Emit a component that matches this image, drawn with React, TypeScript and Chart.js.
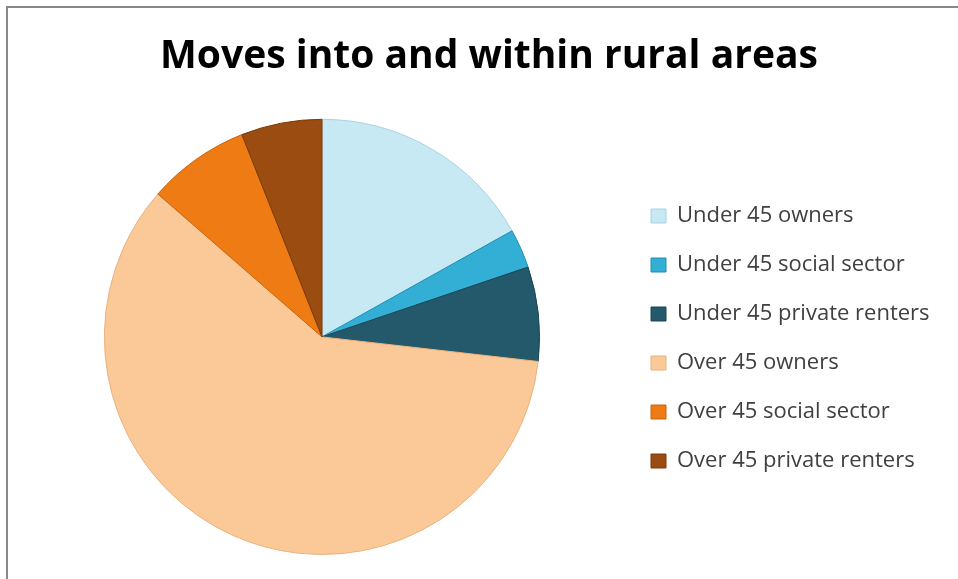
import React, { useEffect, useRef } from "react";
import { Chart, registerables } from "chart.js";

Chart.register(...registerables);

const TITLE = "Moves into and within rural areas";
const CATEGORIES = [
  "Under 45 owners",
  "Under 45 social sector",
  "Under 45 private renters",
  "Over 45 owners",
  "Over 45 social sector",
  "Over 45 private renters",
];
const VALUES = [16.9, 2.9, 7.0, 59.6, 7.6, 6.0];
const COLORS = ["#C6E9F3", "#33AED4", "#23596A", "#FBC998", "#EF7B15", "#9B4C10"];
const EDGE_COLORS = ["#A9D3E0", "#2090B5", "#1A4654", "#E8B27E", "#C9650D", "#7A3A0A"];

const FONT = "'Open Sans', 'Noto Sans', sans-serif";
const LEGEND_MIN_WIDTH = 334;

const legendWidthPlugin = {
  id: "legendWidth",
  afterInit(chart: any) {
    const lg = chart.legend;
    if (!lg) return;
    const orig = lg.fit.bind(lg);
    lg.fit = function () {
      orig();
      this.width = Math.max(this.width, LEGEND_MIN_WIDTH);
    };
  },
};

export default function App() {
  const ref = useRef<HTMLCanvasElement | null>(null);
  useEffect(() => {
    if (!ref.current) return;
    const chart = new Chart(ref.current, {
      type: "pie",
      data: {
        labels: CATEGORIES,
        datasets: [
          {
            data: VALUES,
            backgroundColor: COLORS,
            borderColor: EDGE_COLORS,
            borderWidth: 1,
          },
        ],
      },
      plugins: [legendWidthPlugin],
      options: {
        animation: false,
        responsive: false,
        maintainAspectRatio: false,
        layout: { padding: { left: 20, right: 0, top: 0, bottom: 24 } },
        plugins: {
          title: {
            display: true,
            text: TITLE,
            color: "#000000",
            font: { family: FONT, size: 39, weight: "bold", lineHeight: 1.2 },
            padding: { top: 33, bottom: 39 },
          },
          legend: {
            position: "right",
            align: "center",
            title: {
              display: true,
              text: " ",
              font: { family: FONT, size: 10, lineHeight: 1.2 },
              padding: { top: 55, bottom: 55 },
            },
            labels: {
              color: "#404040",
              font: { family: FONT, size: 22 },
              boxWidth: 15,
              boxHeight: 14,
              padding: 27,
            },
          },
          tooltip: { enabled: false },
        },
      },
    });
    return () => chart.destroy();
  }, []);
  return (
    <div style={{ position: "fixed", left: 0, top: 0, width: 958, height: 579, background: "#fff", overflow: "hidden" }}>
      <div
        style={{
          position: "absolute",
          left: 6,
          top: 6,
          width: 1000,
          height: 1000,
          border: "2px solid #888",
          boxSizing: "border-box",
        }}
      />
      <canvas ref={ref} width={958} height={579} style={{ position: "absolute", left: 0, top: 0 }} />
    </div>
  );
}
